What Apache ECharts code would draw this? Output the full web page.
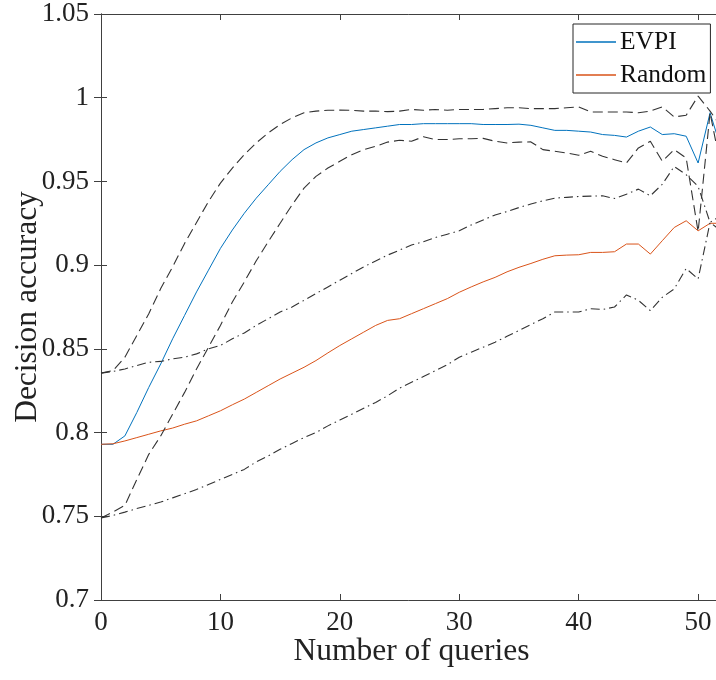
<!DOCTYPE html>
<html>
<head>
<meta charset="utf-8">
<script src="https://cdn.jsdelivr.net/npm/echarts@6/dist/echarts.min.js"></script>
<style>
  html, body { margin: 0; padding: 0; background: #fff; }
  #chart { width: 716px; height: 680px; }
</style>
</head>
<body>
<div id="chart"></div>
<script>
// number of queries (x)
const queries = [0, 1, 2, 3, 4, 5, 6, 7, 8, 9, 10, 11, 12, 13, 14, 15, 16, 17, 18, 19, 20,
  21, 22, 23, 24, 25, 26, 27, 28, 29, 30, 31, 32, 33, 34, 35, 36, 37, 38, 39, 40,
  41, 42, 43, 44, 45, 46, 47, 48, 49, 50, 51, 52]

const evpiMean = [0.793, 0.793, 0.798, 0.812, 0.827, 0.841, 0.856, 0.870, 0.884, 0.897, 0.910,
  0.921, 0.931, 0.940, 0.948, 0.956, 0.963, 0.969, 0.973, 0.976, 0.978,
  0.980, 0.981, 0.982, 0.983, 0.984, 0.984, 0.9845, 0.9845, 0.9845, 0.9845,
  0.9845, 0.984, 0.984, 0.984, 0.9842, 0.9835, 0.982, 0.9805, 0.9805, 0.980,
  0.9795, 0.978, 0.9775, 0.9765, 0.980, 0.9825, 0.978, 0.9785, 0.977, 0.961,
  0.991, 0.968]
const evpiUpper = [0.8355, 0.837, 0.845, 0.858, 0.871, 0.886, 0.899, 0.913, 0.9255, 0.938, 0.949,
  0.958, 0.966, 0.973, 0.979, 0.984, 0.988, 0.991, 0.992, 0.9925, 0.9926,
  0.9925, 0.992, 0.992, 0.9917, 0.992, 0.993, 0.9925, 0.993, 0.9925, 0.993,
  0.993, 0.993, 0.9935, 0.994, 0.994, 0.9935, 0.9935, 0.9935, 0.994, 0.9945,
  0.9915, 0.9915, 0.9915, 0.9915, 0.991, 0.992, 0.9945, 0.9885, 0.9895, 1.001,
  0.992, 0.982]
const evpiLower = [0.749, 0.7526, 0.7565, 0.772, 0.787, 0.798, 0.811, 0.824, 0.838, 0.851, 0.864,
  0.878, 0.890, 0.9026, 0.914, 0.925, 0.936, 0.946, 0.953, 0.958, 0.962,
  0.966, 0.969, 0.971, 0.9735, 0.9746, 0.974, 0.9767, 0.975, 0.975, 0.9755,
  0.9755, 0.9757, 0.974, 0.973, 0.9735, 0.9736, 0.969, 0.968, 0.967, 0.9656,
  0.968, 0.965, 0.963, 0.961, 0.970, 0.974, 0.962, 0.969, 0.964, 0.920,
  0.991, 0.955]

const randomMean = [0.793, 0.7933, 0.795, 0.797, 0.799, 0.801, 0.8027, 0.805, 0.807, 0.810, 0.813,
  0.8166, 0.820, 0.824, 0.828, 0.832, 0.8355, 0.839, 0.843, 0.8476, 0.852,
  0.856, 0.860, 0.864, 0.867, 0.868, 0.871, 0.874, 0.877, 0.880, 0.8838,
  0.887, 0.890, 0.8927, 0.896, 0.8987, 0.901, 0.9035, 0.9056, 0.906, 0.9062,
  0.9076, 0.9076, 0.908, 0.9126, 0.9126, 0.9066, 0.9146, 0.9225, 0.9265, 0.9205,
  0.925, 0.925]
const randomUpper = [0.8355, 0.8365, 0.838, 0.840, 0.842, 0.8425, 0.844, 0.845, 0.847, 0.850, 0.852,
  0.856, 0.8595, 0.864, 0.868, 0.872, 0.875, 0.879, 0.883, 0.887, 0.891,
  0.895, 0.899, 0.9025, 0.906, 0.909, 0.912, 0.914, 0.9165, 0.9185, 0.9205,
  0.924, 0.927, 0.930, 0.932, 0.9344, 0.9365, 0.9384, 0.940, 0.9405, 0.941,
  0.9412, 0.9414, 0.9398, 0.9424, 0.9454, 0.9414, 0.9483, 0.9589, 0.954, 0.947,
  0.9255, 0.930]
const randomLower = [0.749, 0.7505, 0.7525, 0.7546, 0.7565, 0.7585, 0.761, 0.7635, 0.766, 0.769, 0.772,
  0.775, 0.778, 0.7825, 0.786, 0.790, 0.7935, 0.797, 0.800, 0.804, 0.8075,
  0.811, 0.8145, 0.818, 0.822, 0.8265, 0.830, 0.8335, 0.837, 0.8405, 0.845,
  0.848, 0.851, 0.854, 0.8575, 0.861, 0.8645, 0.868, 0.872, 0.872, 0.872,
  0.874, 0.8735, 0.875, 0.8822, 0.879, 0.8728, 0.8808, 0.8858, 0.898, 0.8917,
  0.9255, 0.920]

const FONT = 'Liberation Serif'
const AXIS_COLOR = '#404040'
const DASH = [10, 5]
const DASH_DOT = [9, 4, 1.5, 4]

const pairs = (ys) => queries.map((q, i) => [q, ys[i]])

function band(data, dash) {
  return {
    type: 'line',
    data: pairs(data),
    symbol: 'none',
    silent: true,
    lineStyle: { color: '#333', width: 1.1, type: dash }
  }
}

const chart = echarts.init(document.getElementById('chart'))

chart.setOption({
  animation: false,
  textStyle: { fontFamily: FONT },
  // the right frame sits just past the window edge, as in the original
  grid: { left: 101, top: 14, width: 621, height: 586, containLabel: false, outerBoundsMode: 'none' },
  legend: {
    data: ['EVPI', 'Random'],
    orient: 'vertical',
    left: 573,
    top: 24,
    padding: [3, 4, 3, 3],
    itemGap: 3,
    itemWidth: 40,
    itemHeight: 1.3,
    icon: 'rect',
    backgroundColor: '#fff',
    borderColor: '#262626',
    borderWidth: 1,
    borderRadius: 0,
    textStyle: { fontFamily: FONT, fontSize: 25.5, color: '#111', lineHeight: 30, padding: [0, 0, 0, -1] }
  },
  xAxis: [
    {
      type: 'value',
      min: 0,
      max: 52,
      interval: 10,
      name: 'Number of queries',
      nameLocation: 'middle',
      nameGap: 36,
      nameMoveOverlap: false,
      nameTextStyle: { fontFamily: FONT, fontSize: 31.5, color: '#222' },
      axisLine: { lineStyle: { color: AXIS_COLOR, width: 1 } },
      axisTick: { inside: true, length: 6, lineStyle: { color: AXIS_COLOR } },
      axisLabel: { fontFamily: FONT, fontSize: 27, color: '#222', margin: 9, showMaxLabel: false },
      splitLine: { show: false }
    },
    {
      type: 'value',
      position: 'top',
      min: 0,
      max: 52,
      interval: 10,
      axisLine: { lineStyle: { color: AXIS_COLOR, width: 1 } },
      axisTick: { inside: true, length: 6, lineStyle: { color: AXIS_COLOR } },
      axisLabel: { show: false },
      splitLine: { show: false }
    }
  ],
  yAxis: [
    {
      type: 'value',
      min: 0.7,
      max: 1.05,
      interval: 0.05,
      name: 'Decision accuracy',
      nameLocation: 'middle',
      nameGap: 57,
      nameMoveOverlap: false,
      nameTextStyle: { fontFamily: FONT, fontSize: 31.5, color: '#222' },
      axisLine: { show: true, lineStyle: { color: AXIS_COLOR, width: 1 } },
      axisTick: { show: true, inside: true, length: 6, lineStyle: { color: AXIS_COLOR } },
      axisLabel: { fontFamily: FONT, fontSize: 27, color: '#222', margin: 12 },
      splitLine: { show: false }
    },
    {
      type: 'value',
      position: 'right',
      min: 0.7,
      max: 1.05,
      interval: 0.05,
      axisLine: { show: true, lineStyle: { color: AXIS_COLOR, width: 1 } },
      axisTick: { show: true, inside: true, length: 7, lineStyle: { color: AXIS_COLOR } },
      axisLabel: { show: false },
      splitLine: { show: false }
    }
  ],
  series: [
    {
      name: 'EVPI',
      type: 'line',
      data: pairs(evpiMean),
      symbol: 'none',
      lineStyle: { color: '#0072BD', width: 1 },
      itemStyle: { color: '#0072BD' }
    },
    {
      name: 'Random',
      type: 'line',
      data: pairs(randomMean),
      symbol: 'none',
      lineStyle: { color: '#D95319', width: 1 },
      itemStyle: { color: '#D95319' }
    },
    band(evpiUpper, DASH),
    band(evpiLower, DASH),
    band(randomUpper, DASH_DOT),
    band(randomLower, DASH_DOT)
  ]
})
</script>
</body>
</html>
